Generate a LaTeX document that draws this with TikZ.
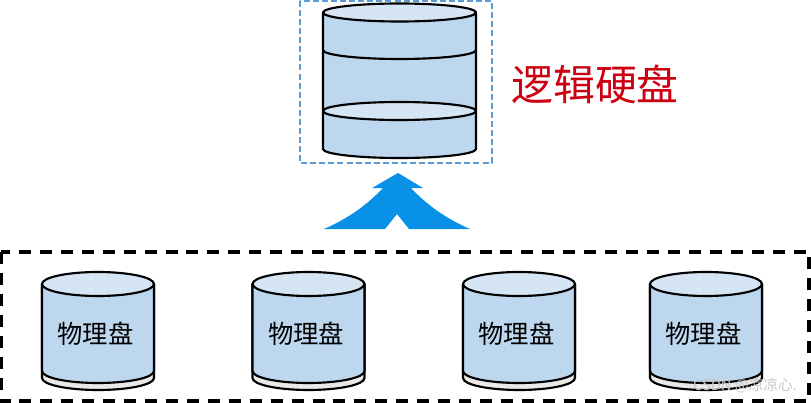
\documentclass[tikz,border=0pt]{standalone}
\usepackage{fontspec}
\usepackage{xcolor}
\newfontfamily\cjk{Noto Sans CJK SC}
\definecolor{diskblue}{HTML}{BDD7EE}
\definecolor{disktop}{HTML}{D6E5F3}
\definecolor{diskgrey}{HTML}{E9E9E9}
\definecolor{boxblue}{HTML}{5B9BD5}
\definecolor{arrowblue}{HTML}{0891E6}
\definecolor{titlered}{HTML}{CC0011}
\tikzset{
  diskline/.style={draw=black,line width=1.6pt,line join=round},
  disklabel/.style={font=\cjk\fontsize{19}{19}\selectfont,text=black,inner sep=0pt},
  groupbox/.style={draw=black,line width=2.4pt,dash pattern=on 9pt off 6.7pt},
  logicbox/.style={draw=boxblue,line width=1.3pt,dash pattern=on 4.5pt off 2.3pt}
}
\newcommand{\physdisk}[2]{
  \draw[diskline,fill=diskgrey] (#1-56,284) -- (#1-56,378)
    arc[start angle=180,end angle=0,x radius=56,y radius=12] -- (#1+56,284) -- cycle;
  \draw[diskline,fill=diskblue] (#1-56,284) -- (#1-56,371)
    arc[start angle=180,end angle=0,x radius=56,y radius=12] -- (#1+56,284) -- cycle;
  \draw[diskline,fill=disktop] (#1,284) ellipse[x radius=56,y radius=12];
  \node[disklabel] (#2) at (#1-2.5,334) {物理盘};
}
\begin{document}
\begin{tikzpicture}[x=0.75pt,y=-0.75pt]
  \useasboundingbox (0,0) rectangle (811,403);

  % logical disk
  \draw[diskline,fill=diskblue] (323,13) -- (323,149)
    arc[start angle=180,end angle=0,x radius=76.5,y radius=9] -- (476,13) -- cycle;
  \draw[diskline,fill=disktop] (399.5,12.5) ellipse[x radius=76.5,y radius=9];
  \draw[diskline] (323,50) arc[start angle=180,end angle=0,x radius=76.5,y radius=9];
  \draw[diskline,fill=disktop] (399.5,111) ellipse[x radius=76.5,y radius=9];
  \draw[logicbox] (300,1) rectangle (492,163);
  \node[font=\cjk\fontsize{31.4}{31.4}\selectfont,text=titlered,inner sep=0pt] (title) at (595,84) {逻辑硬盘};

  % arrow
  \fill[arrowblue] (398,173) -- (423,188) -- (411,188)
    .. controls (428,206) and (447,219) .. (470,229) -- (409,229) -- (397,214) -- (385,229) -- (324,229)
    .. controls (347,219) and (366,206) .. (383,188) -- (372,188) -- cycle;

  % physical disks
  \draw[groupbox] (1,252) rectangle (809,401);
  \physdisk{98}{diska}
  \physdisk{308.5}{diskb}
  \physdisk{519}{diskc}
  \physdisk{706}{diskd}

  \node[font=\cjk\fontsize{11}{11}\selectfont,text=black!22,inner sep=0pt] (mark) at (745,386) {CSDN @凉凉心.};
\end{tikzpicture}
\end{document}
